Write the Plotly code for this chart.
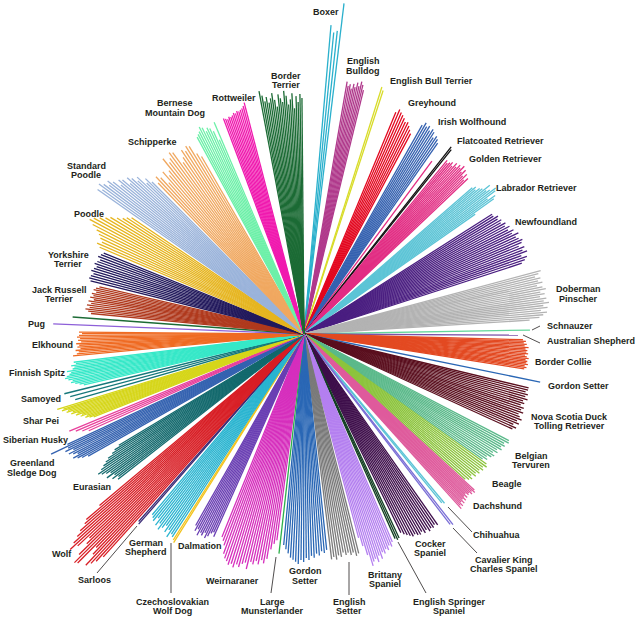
import math
import plotly.graph_objects as go

# ---------------- data (angles in degrees, counter-clockwise from east; branch lengths) ----------------
breeds = [
    "Boxer", "English Bulldog", "English Bull Terrier", "Greyhound", "Irish Wolfhound",
    "Golden Retriever (outlier)", "Flatcoated Retriever", "Golden Retriever", "Labrador Retriever",
    "Newfoundland", "Doberman Pinscher", "Schnauzer", "Australian Shepherd", "Border Collie",
    "Gordon Setter (outlier)", "Nova Scotia Duck Tolling Retriever", "Belgian Tervuren", "Beagle",
    "Dachshund", "Chihuahua", "Cavalier King Charles Spaniel", "Cocker Spaniel",
    "English Springer Spaniel", "Brittany Spaniel", "English Setter", "Gordon Setter",
    "Large Munsterlander", "Weirnaraner", "Dalmation", "Czechoslovakian Wolf Dog",
    "German Shepherd", "Sarloos", "Wolf", "Eurasian", "Greenland Sledge Dog", "Siberian Husky",
    "Shar Pei", "Samoyed", "Finnish Spitz", "Elkhound", "Pug", "Border Terrier (outlier)",
    "Jack Russell Terrier", "Yorkshire Terrier", "Poodle", "Standard Poodle", "Schipperke",
    "Bernese Mountain Dog", "Rottweiler", "Border Terrier",
]

theta_start = [83.1, 76.3, 72.0, 62.0, 55.0, 53.5, 51.4, 43.5, 35.0, 18.0, 3.5, 1.0, -0.3, -9.0,
               -11.5, -24.5, -35.0, -42.0, -48.0, -50.8, -52.5, -64.0, -66.0, -75.0, -83.0, -95.5,
               -96.5, -112.0, -119.5, -122.4, -130.0, -131.4, -140.0, -149.0, -155.0, -157.5,
               -163.0, -166.0, -173.0, -180.5, 177.7, 175.8, 167.0, 158.0, 146.0, 135.0, 120.0,
               113.0, 104.5, 90.5]
theta_end = [85.0, 80.3, 72.5, 67.5, 60.5, 53.5, 51.8, 50.5, 41.0, 32.5, 15.0, 1.0, -0.3, -1.5,
             -11.5, -13.5, -27.5, -35.5, -42.5, -50.3, -52.0, -55.0, -65.0, -67.0, -76.0, -84.0,
             -96.5, -97.5, -114.0, -122.0, -123.0, -131.0, -132.0, -142.0, -150.5, -155.8,
             -158.5, -164.0, -167.0, -174.6, 177.7, 175.8, 174.5, 166.0, 157.0, 145.0, 134.0,
             118.5, 110.5, 100.5]

len_boxer = [333, 305, 303, 310]
len_bulldog = [251, 256, 259, 254, 257, 252, 255, 250, 254, 252, 256]
len_bull_terrier = [256, 259]
len_greyhound = [227, 230, 233, 236, 235, 238, 240, 242, 244, 240]
len_wolfhound = [233, 236, 238, 235, 240, 242, 239, 243, 241, 244, 240]
len_golden_out = [215]
len_flatcoat = [236, 238]
len_golden = [226, 222, 228, 224, 230, 226, 232, 228, 230, 226, 229, 224, 227, 225, 223, 225]
len_labrador = [209, 233, 236, 228, 239, 241, 235, 232, 238, 230, 228, 224, 226, 223]
len_newfoundland = [229, 233, 236, 231, 238, 234, 237, 232, 236, 238, 235, 233, 237, 231, 234,
                    229, 232, 228, 230, 226, 228, 225, 227, 223, 223]
len_doberman = [226, 236, 240, 244, 238, 245, 241, 247, 242, 245, 239, 244, 240, 246, 243, 238,
                244, 240, 243, 238, 242, 245]
len_schnauzer = [226]
len_aussie = [214]
len_border_collie = [223, 225, 223, 226, 224, 225, 223, 226, 224, 222, 225, 223, 224, 222, 225,
                     221, 223, 220, 222, 219]
len_gordon_out = [241]
len_nova_scotia = [229, 232, 228, 233, 230, 234, 231, 229, 233, 230, 232, 228, 231, 229, 233,
                   230, 232, 229, 231, 231]
len_tervuren = [218, 222, 220, 224, 226, 223, 227, 225, 229, 227, 230, 228, 232, 231]
len_beagle = [217, 220, 222, 219, 223, 221, 224, 222, 225, 223, 226, 224]
len_dachshund = [235, 232, 234, 230, 233, 229, 232, 228, 231, 227, 230, 229, 232, 230, 233, 231]
len_chihuahua = [218, 220]
len_cavalier = [240, 242]
len_cocker = [221, 224, 226, 228, 230, 229, 231, 232, 230, 233, 231, 234, 232, 233, 231, 233]
len_springer = [224, 226, 225]
len_brittany = [211, 220, 230, 242, 238, 236, 240, 234, 238, 232, 234, 230, 232, 228, 230, 226]
len_english_setter = [227, 225, 228, 224, 226, 222, 225, 223, 226, 224, 228, 226]
len_gordon = [212, 216, 220, 224, 226, 228, 230, 226, 228, 224, 226, 222, 224, 220, 222, 218,
              220, 217]
len_munsterlander = [221]
len_weimaraner = [219, 222, 226, 234, 238, 240, 243, 241, 244, 240, 242, 238, 236, 242, 234,
                  236, 232, 235, 230, 233, 228, 218, 212, 208]
len_dalmation = [220, 225, 222, 228, 224, 226, 222, 227, 224, 220, 218, 222]
len_czech = [244, 246]
len_shepherd = [236, 238, 240, 235, 242, 238, 244, 240, 236, 242, 238, 245, 240, 242]
len_sarloos = [250, 252]
len_wolf = [267, 286, 290, 298, 304, 311, 318, 310, 296, 302, 315, 324, 322, 298, 305, 318, 313,
            308, 300]
len_eurasian = [216, 222, 226, 232, 236, 240, 244, 249, 246, 242, 238, 244, 236, 240, 234, 236]
len_greenland = [261, 280, 262, 266, 258, 264, 260, 256, 262, 258, 254, 248]
len_husky = [254, 248, 242, 236]
len_sharpei = [258, 252, 254, 248, 250, 244, 246, 240, 242, 236, 238, 232, 234, 230, 226]
len_samoyed = [247, 242, 238]
len_finnish = [232, 230, 235, 232, 234, 240, 236, 238, 241, 243, 240, 236, 238, 234, 230, 226]
len_elkhound = [225, 222, 225, 227, 224, 226, 223, 228, 225, 227, 224, 229, 226, 228, 232]
len_pug = [251]
len_border_terrier_out = [232]
len_jack_russell = [210, 213, 215, 212, 216, 214, 217, 213, 218, 215, 219, 216, 220, 217, 214]
len_yorkshire = [216, 218, 220, 217, 219, 221, 218, 220, 222, 219, 221, 222, 220]
len_poodle = [208, 212, 215, 220, 226, 230, 235, 240, 243, 238, 232, 228, 225, 222, 226, 222]
len_standard_poodle = [215, 222, 218, 229, 226, 232, 236, 230, 238, 241, 236, 244, 249, 245, 250,
                       254, 248, 252]
len_schipperke = [205, 210, 220, 222, 218, 221, 214, 210, 224, 226, 221, 218, 225, 212, 208, 215,
                  203, 212, 216, 210]
len_bernese = [230, 212, 222, 226, 228, 225, 230, 232, 228, 226, 224]
len_rottweiler = [239, 236, 234, 233, 232, 233, 231, 232, 230, 229, 230, 228, 229, 230]
len_border_terrier = [236, 240, 232, 238, 226, 241, 235, 230, 239, 244, 233, 237, 241, 229, 236,
                      243, 238, 234, 240, 236, 242, 247]

lengths = [
    len_boxer, len_bulldog, len_bull_terrier, len_greyhound, len_wolfhound, len_golden_out,
    len_flatcoat, len_golden, len_labrador, len_newfoundland, len_doberman, len_schnauzer,
    len_aussie, len_border_collie, len_gordon_out, len_nova_scotia, len_tervuren, len_beagle,
    len_dachshund, len_chihuahua, len_cavalier, len_cocker, len_springer, len_brittany,
    len_english_setter, len_gordon, len_munsterlander, len_weimaraner, len_dalmation, len_czech,
    len_shepherd, len_sarloos, len_wolf, len_eurasian, len_greenland, len_husky, len_sharpei,
    len_samoyed, len_finnish, len_elkhound, len_pug, len_border_terrier_out, len_jack_russell,
    len_yorkshire, len_poodle, len_standard_poodle, len_schipperke, len_bernese, len_rottweiler,
    len_border_terrier,
]

# ---------------- styles ----------------
colors = [
    "#2ab0cc", "#b03a8c", "#d8dc2a", "#e3061e", "#3461b0", "#e22c83", "#111111", "#e22c83",
    "#5bc4d6", "#4a1e80", "#b3b3b3", "#63d69a", "#7c52a8", "#e34a22", "#2a67b5", "#5a0f1e",
    "#5ab98a", "#8cc43c", "#df5a9c", "#5cc4d6", "#7a6ed6", "#3d0d4a", "#123f22", "#b47ff0",
    "#7a7a7a", "#2a67b5", "#2db04a", "#d62fbd", "#6a3fb3", "#f2c31e", "#29b4d0", "#3a2a75",
    "#d81e25", "#13696d", "#3462b0", "#e8409c", "#d6d61a", "#16787a", "#36e8c8", "#ef6b23",
    "#8d5fd8", "#1c6b35", "#b03a1e", "#22195c", "#e6b520", "#9ab3da", "#f0a860", "#6cf0a8",
    "#f01aaf", "#1c6b35",
]

W, H = 635, 619
CX, CY = 304, 334          # centre of the star, pixels from top-left (axis units == pixels)
LINE_W = 1.3

fig = go.Figure()
for name, col, t0, t1, ls in zip(breeds, colors, theta_start, theta_end, lengths):
    n = len(ls)
    xs, ys = [], []
    for i, L in enumerate(ls):
        t = t0 if n == 1 else t0 + (t1 - t0) * i / (n - 1)
        a = math.radians(t)
        xs += [0, L * math.cos(a), None]
        ys += [0, L * math.sin(a), None]
    fig.add_trace(go.Scatter(x=xs, y=ys, mode="lines", name=name,
                             line=dict(color=col, width=LINE_W), cliponaxis=False,
                             hoverinfo="skip", showlegend=False))

# ---------------- labels (text, x px, y px, anchor) ----------------
labels = [
    ("Boxer", 326, 12, "center"),
    ("English", 363, 61, "center"), ("Bulldog", 363, 71, "center"),
    ("English Bull Terrier", 388, 81, "left"),
    ("Greyhound", 406, 103, "left"),
    ("Irish Wolfhound", 436, 122, "left"),
    ("Flatcoated Retriever", 455, 141, "left"),
    ("Golden Retriever", 467, 159, "left"),
    ("Labrador Retriever", 494, 188, "left"),
    ("Newfoundland", 513, 222, "left"),
    ("Doberman", 578, 289, "center"), ("Pinscher", 578, 299, "center"),
    ("Schnauzer", 545, 326, "left"),
    ("Australian Shepherd", 545, 341, "left"),
    ("Border Collie", 533, 362, "left"),
    ("Gordon Setter", 546, 386, "left"),
    ("Nova Scotia Duck", 569, 417, "center"), ("Tolling Retriever", 569, 426, "center"),
    ("Belgian", 531, 456, "center"), ("Tervuren", 531, 465, "center"),
    ("Beagle", 507, 484, "center"),
    ("Dachshund", 497, 506, "center"),
    ("Chihuahua", 496, 535, "center"),
    ("Cavalier King", 504, 560, "center"), ("Charles Spaniel", 504, 569, "center"),
    ("Cocker", 430, 544, "center"), ("Spaniel", 430, 553, "center"),
    ("English Springer", 449, 602, "center"), ("Spaniel", 449, 611, "center"),
    ("Brittany", 385, 575, "center"), ("Spaniel", 385, 584, "center"),
    ("English", 349, 602, "center"), ("Setter", 349, 611, "center"),
    ("Gordon", 305, 571, "center"), ("Setter", 305, 581, "center"),
    ("Large", 272, 602, "center"), ("Munsterlander", 272, 611, "center"),
    ("Weirnaraner", 232, 581, "center"),
    ("Dalmation", 200, 546, "center"),
    ("Czechoslovakian", 172, 602, "center"), ("Wolf Dog", 172, 611, "center"),
    ("German", 146, 543, "center"), ("Shepherd", 146, 552, "center"),
    ("Sarloos", 94, 580, "center"),
    ("Wolf", 62, 554, "center"),
    ("Eurasian", 92, 487, "center"),
    ("Greenland", 32, 463, "center"), ("Sledge Dog", 32, 473, "center"),
    ("Siberian Husky", 35, 440, "center"),
    ("Shar Pei", 41, 421, "center"),
    ("Samoyed", 41, 399, "center"),
    ("Finnish Spitz", 37, 373, "center"),
    ("Elkhound", 52, 345, "center"),
    ("Pug", 36, 324, "center"),
    ("Jack Russell", 59, 290, "center"), ("Terrier", 59, 299, "center"),
    ("Yorkshire", 68, 255, "center"), ("Terrier", 68, 264, "center"),
    ("Poodle", 89, 214, "center"),
    ("Standard", 86, 166, "center"), ("Poodle", 86, 175, "center"),
    ("Schipperke", 152, 142, "center"),
    ("Bernese", 175, 103, "center"), ("Mountain Dog", 175, 113, "center"),
    ("Rottweiler", 234, 98, "center"),
    ("Border", 286, 76, "center"), ("Terrier", 286, 85, "center"),
]

leaders = [
    (532, 330, 540, 326), (523, 335, 540, 343), (448, 507, 472, 532), (453, 528, 477, 553),
    (398, 542, 426, 593), (349, 562, 349, 595), (276, 557, 271, 593), (171, 543, 171, 593),
    (137, 526, 97, 573),
]

annotations = [dict(text=t, x=x / W, y=1 - y / H, xref="paper", yref="paper",
                    xanchor=a, yanchor="middle", showarrow=False,
                    font=dict(family="Liberation Sans, Arial, sans-serif", size=9,
                              color="#231f20", weight="bold"))
               for t, x, y, a in labels]
shapes = [dict(type="line", xref="paper", yref="paper", x0=x0 / W, y0=1 - y0 / H,
               x1=x1 / W, y1=1 - y1 / H, line=dict(color="#231f20", width=0.8))
          for x0, y0, x1, y1 in leaders]

fig.update_layout(
    width=W, height=H,
    margin=dict(l=0, r=0, t=0, b=0),
    paper_bgcolor="white",
    plot_bgcolor="white",
    xaxis=dict(range=[-CX, W - CX], visible=False, showgrid=False, zeroline=False),
    yaxis=dict(range=[CY - H, CY], visible=False, showgrid=False, zeroline=False),
    annotations=annotations,
    shapes=shapes,
)

fig.write_html("out.html", config={"displayModeBar": False},
               post_script="document.body.style.margin='0px';")
